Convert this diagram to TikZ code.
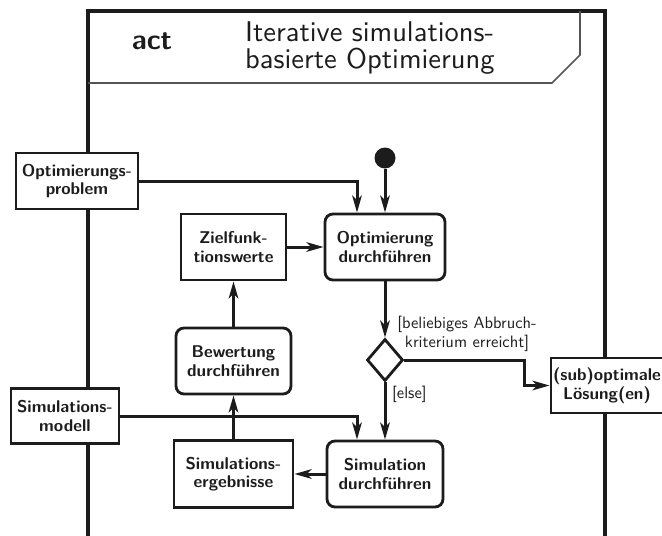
\documentclass[tikz,border=0pt]{standalone}
\usepackage{fontspec}
\usetikzlibrary{arrows.meta,shapes.geometric}
% Latin Modern Sans at its 10pt design size, scaled freely
\newfontfamily\lmsansten{lmsans10-regular.otf}[BoldFont=lmsans10-bold.otf]
\definecolor{ink}{HTML}{1C1C1C}
\definecolor{rule}{HTML}{555555}
\newcommand\nodelabelfont{\lmsansten\bfseries\fontsize{17}{18.5}\selectfont}
\newcommand\guardfont{\lmsansten\fontsize{16.5}{19}\selectfont}
\newcommand\headfont{\lmsansten\fontsize{28.5}{27.5}\selectfont}
\begin{document}
\begin{tikzpicture}[x=1pt,y=-1pt,
  frameline/.style={draw=ink, line width=4.5pt, line join=miter},
  headline/.style={draw=rule, line width=1.6pt},
  objbox/.style={draw=ink, line width=2.8pt, fill=white, rectangle,
    inner sep=0pt, align=center, font=\nodelabelfont, text=ink},
  actbox/.style={objbox, rounded corners=8pt},
  decision/.style={draw=ink, line width=2.8pt, fill=white, diamond,
    inner sep=0pt, minimum width=36pt, minimum height=42pt},
  startnode/.style={circle, fill=ink, inner sep=0pt, minimum size=21pt},
  flow/.style={draw=ink, line width=3pt, line join=miter,
    -{Stealth[length=17pt,width=9.5pt,inset=4.5pt]}},
  guard/.style={font=\guardfont, text=ink, inner sep=0pt}]
\useasboundingbox (0,0) rectangle (662,536);
\clip (0,0) rectangle (662,536);

% activity frame and heading
\draw[frameline] (88,560) -- (88,11) -- (605,11) -- (605,560);
\draw[headline] (88,83) -- (552,83) -- (580,55) -- (580,11);
\node[anchor=base, font=\headfont\bfseries, text=ink, inner sep=0pt] (kind) at (152,49) {act};
\node[anchor=west, align=left, font=\headfont, text=ink, inner sep=0pt] (title) at (245,48)
  {Iterative simulations-\\basierte Optimierung};

% parameters on the frame border
\node[objbox, minimum width=122pt, minimum height=56pt] (optprob) at (77,181) {Optimierungs-\\problem};
\node[objbox, minimum width=108pt, minimum height=55pt] (simmod) at (65,416) {Simulations-\\modell};
\node[objbox, minimum width=112pt, minimum height=55pt] (subopt) at (607,385.5) {(sub)optimale\\Lösung(en)};

% actions and object nodes
\node[startnode] (start) at (385,158) {};
\node[objbox, minimum width=105pt, minimum height=66pt] (zielf) at (233.5,247) {Zielfunk-\\tionswerte};
\node[actbox, minimum width=120pt, minimum height=66pt] (optdurch) at (385,247) {Optimierung\\durchführen};
\node[actbox, minimum width=115pt, minimum height=66pt] (bewert) at (233.5,361) {Bewertung\\durchführen};
\node[decision] (dec) at (385,360) {};
\node[objbox, minimum width=119pt, minimum height=67pt] (simerg) at (233.5,474) {Simulations-\\ergebnisse};
\node[actbox, minimum width=116pt, minimum height=66pt] (simdurch) at (385,474) {Simulation\\durchführen};

% bend points
\coordinate (optdrop) at (357,181);
\coordinate (simdrop) at (357,416);
\coordinate (exitbend) at (524,360);

% control and object flows
\draw[flow] (start) -- (optdurch.north);
\draw[flow] (optprob.east) -- (optdrop) -- (optdrop |- optdurch.north);
\draw[flow] (zielf.east) -- (optdurch.west);
\draw[flow] (optdurch.south) -- (dec.north);
\draw[flow] (dec.east) -- (exitbend) |- (subopt.west);
\draw[flow] (dec.south) -- (simdurch.north);
\draw[flow] (simmod.east) -- (simdrop) -- (simdrop |- simdurch.north);
\draw[flow] (simdurch.west) -- (simerg.east);
\draw[flow] (simerg.north) -- (bewert.south);
\draw[flow] (bewert.north) -- (zielf.south);

% guards
\node[guard, align=center] (guardtxt) at (467,334) {[beliebiges Abbruch-\\kriterium erreicht]};
\node[guard, anchor=west] (elsetxt) at (392,394) {[else]};
\end{tikzpicture}
\end{document}
